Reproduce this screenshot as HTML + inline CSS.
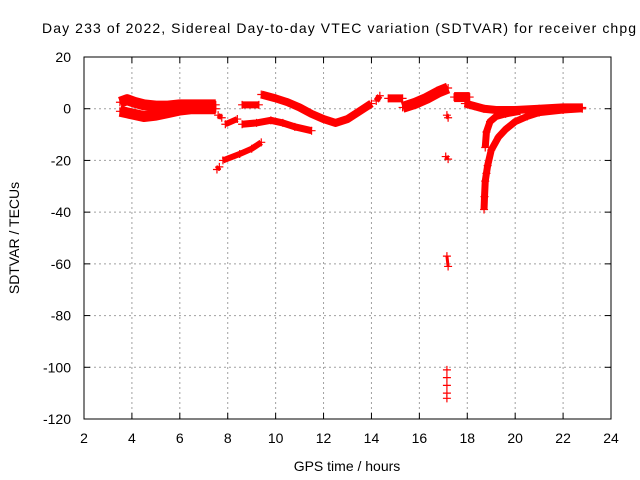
<!DOCTYPE html>
<html><head><meta charset="utf-8"><style>
body{margin:0;background:#fff}
svg{display:block;font-family:"Liberation Sans",sans-serif}
</style></head><body>
<svg id="chart" width="640" height="480" viewBox="0 0 640 480">
<rect width="640" height="480" fill="#fff"/>
<text x="339" y="33" font-size="14" text-anchor="middle" textLength="594">Day 233 of 2022, Sidereal Day-to-day VTEC variation (SDTVAR) for receiver chpg</text>
<text x="347" y="471" font-size="14" text-anchor="middle">GPS time / hours</text>
<text transform="translate(19,238) rotate(-90)" font-size="14" text-anchor="middle">SDTVAR / TECUs</text>
<g id="grid"></g><g id="ticks"></g><g id="marks"></g>
<rect x="84" y="57" width="527" height="362" fill="none" stroke="#000" stroke-width="1"/>
</svg>
<script>
const xTicks=[2,4,6,8,10,12,14,16,18,20,22,24];
const yTicks=[20,0,-20,-40,-60,-80,-100,-120];
const trackHours=[
[3.5,3.8,4.1,4.5,5,5.5,6,6.5,7,7.5],
[3.5,4,4.5,5,5.5,6,6.5,7,7.5],
[7.6,7.75],
[7.9,8.4],
[7.55,7.65],
[7.8,8.5,9.0,9.4],
[8.6,9.3],
[8.6,9.2,9.8,10.3,10.8,11.5],
[9.4,10,10.5,11,11.5,12,12.5,13,13.5,14],
[14.2,14.35],
[14.7,15.3],
[15.3,15.8,16.3,16.8,17.2],
[17.45,18.1],
[17.15,17.2],
[17.1,17.2],
[17.15,17.2],
[17.15,17.15,17.15,17.15,17.15],
[17.9,18.3,18.7,19.2,20,21,22,22.8],
[18.75,18.8,18.95,19.2,19.6,20.2],
[18.7,18.72,18.75,18.8,18.85,19,19.3,19.6,20,20.5,21,22,22.8]
];
const trackValues=[
[2.5,3.5,2.5,1.5,1,1,1.5,1.5,1.5,1.5],
[-1,-2,-3,-2.5,-1.5,-0.5,0,0,0],
[-2.5,-3.5],
[-6,-4],
[-23.5,-22.5],
[-20,-17.5,-15.5,-13],
[1.5,1.5],
[-6,-5.5,-4.5,-5.5,-7,-8.5],
[5.5,4,2.5,0.5,-2,-4,-5.5,-4,-1,2],
[3,5],
[4,4],
[0.5,2,4,6.5,8],
[4.5,4.5],
[-2.5,-3.5],
[-18.5,-19.5],
[-57,-61],
[-101,-104,-107,-110,-112],
[2,1,0,-0.5,-0.5,0,0.5,0.5],
[-15,-9,-5,-3,-2,-1],
[-39,-34,-28,-25,-22,-16,-11,-8,-5,-3,-1.5,-0.5,0]
];
const trackWidth=[11,11,5,6,5,6,7,7,8,6,8,11,10,3,3,3,1,8,7,7];
const NS="http://www.w3.org/2000/svg";
const X0=84,X1=611,Y0=419,Y1=57;
function xs(h){return X0+(h-2)*(X1-X0)/22;}
function ys(v){return Y0-(v+120)*(Y0-Y1)/140;}
const grid=document.getElementById('grid'),ticks=document.getElementById('ticks'),marks=document.getElementById('marks');
function mk(tag,attrs,parent){const e=document.createElementNS(NS,tag);for(const k in attrs)e.setAttribute(k,attrs[k]);parent.appendChild(e);return e;}
xTicks.forEach(t=>{
  const x=xs(t);
  if(t>2&&t<24){const g=mk('line',{x1:x,x2:x,y1:Y1,y2:Y0,stroke:'#a0a0a0','stroke-dasharray':'2,3'},grid);
  
  }
  const a=mk('line',{x1:x,x2:x,y1:Y0,y2:Y0-6,stroke:'#000'},ticks);
  
  
  const b=mk('line',{x1:x,x2:x,y1:Y1,y2:Y1+6,stroke:'#000'},ticks);
  
  
  const l=mk('text',{x:x,y:443,'font-size':14,'text-anchor':'middle'},ticks);l.textContent=t;
  
  
});
yTicks.forEach(t=>{
  const y=ys(t);
  if(t>-120&&t<20){const g=mk('line',{x1:X0,x2:X1,y1:y,y2:y,stroke:'#a0a0a0','stroke-dasharray':'2,3'},grid);
  
  }
  const a=mk('line',{x1:X0,x2:X0+6,y1:y,y2:y,stroke:'#000'},ticks);
  
  
  const b=mk('line',{x1:X1,x2:X1-6,y1:y,y2:y,stroke:'#000'},ticks);
  
  
  const l=mk('text',{x:71,y:y+5,'font-size':14,'text-anchor':'end'},ticks);l.textContent=t;
  
  
});
trackHours.forEach((hs,i)=>{
  const vs=trackValues[i];
  const pts=hs.map((h,j)=>xs(h)+','+ys(vs[j])).join(' ');
  if(trackWidth[i]>1){const p=mk('polyline',{points:pts,fill:'none',stroke:'#ff0000','stroke-width':trackWidth[i],'stroke-linejoin':'round'},marks);
  
  }
  hs.forEach((h,j)=>{
    const x=xs(h),y=ys(vs[j]);
    const m=mk('path',{d:`M${x-4},${y}H${x+4}M${x},${y-4}V${y+4}`,stroke:'#ff0000','stroke-width':1.2},marks);
    
    
  });
});
</script>
</body></html>
